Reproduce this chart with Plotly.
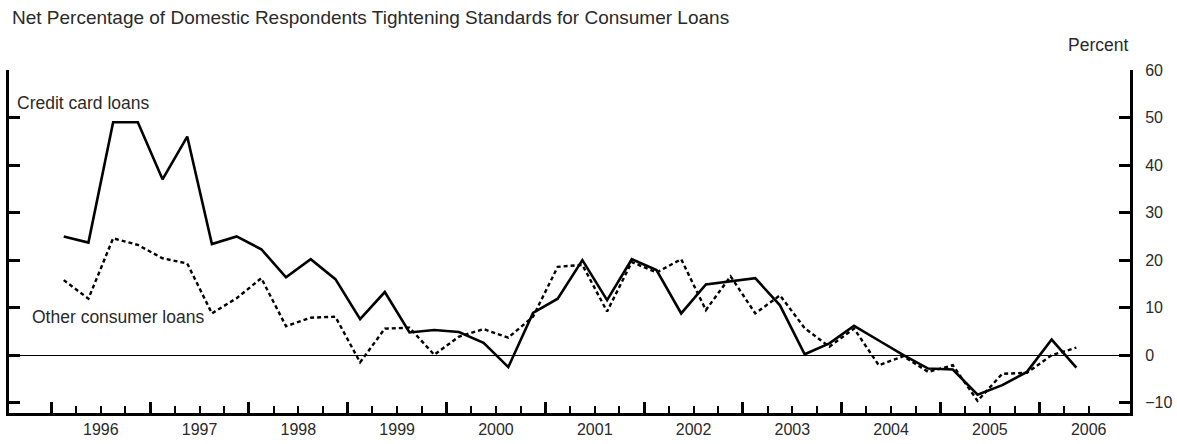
import plotly.graph_objects as go

# Quarterly survey periods: 1996 Q1 .. 2006 Q2
years = [y for y in range(1996, 2007) for _ in range(4)][:42]
quarters = [q for _ in range(1996, 2007) for q in range(4)][:42]

credit_card = [25, 23.7, 49, 49, 37, 46, 23.4, 25,
               22.3, 16.4, 20.2, 16.0, 7.6, 13.3, 4.8, 5.3,
               4.9, 2.6, -2.5, 8.9, 11.9, 20.0, 11.6, 20.2,
               17.9, 8.8, 14.9, 15.5, 16.2, 10.5, 0.2, 2.5,
               6.2, 3.1, 0.0, -2.8, -3.0, -8.3, -6.3, -3.5,
               3.3, -2.6]
other_consumer = [15.8, 11.9, 24.6, 23.2, 20.4, 19.3, 8.8, 12.0,
                  16.2, 6.1, 7.9, 8.1, -1.5, 5.6, 5.8, 0.1,
                  3.9, 5.5, 3.7, 8.1, 18.6, 19.0, 9.2, 19.6,
                  17.4, 20.2, 9.5, 16.6, 8.8, 12.6, 5.7, 1.8,
                  5.6, -2.1, -0.2, -3.5, -2.1, -9.6, -3.9, -3.7,
                  0.0, 1.6]

year_ticks = list(range(1996, 2007))
y_ticks = [-10, 0, 10, 20, 30, 40, 50, 60]

# x position of each survey: middle of its quarter
x = [y + 0.125 + 0.25 * q for y, q in zip(years, quarters)]

# quarter ticks (short) with year labels at mid-year; year starts as long ticks
q_ticks = [y + f for y in year_ticks for f in (0.25, 0.5, 0.75) if y + f <= 2006.5]
q_text = [str(int(v)) if abs(v - int(v) - 0.5) < 1e-9 else "" for v in q_ticks]

FONT = "Arial, 'Liberation Sans', sans-serif"
TXT = "#2a2a2a"

fig = go.Figure()
fig.add_trace(go.Scatter(x=x, y=credit_card, mode="lines", name="Credit card loans",
                         line=dict(color="black", width=2.6)))
fig.add_trace(go.Scatter(x=x, y=other_consumer, mode="lines", name="Other consumer loans",
                         line=dict(color="black", width=2.4, dash="4px,3px")))

yr = [-12.15, 60]
fig.update_layout(
    width=1177, height=444,
    margin=dict(l=9, r=47, t=70, b=31, autoexpand=False),
    paper_bgcolor="white", plot_bgcolor="white",
    showlegend=False,
    font=dict(family=FONT, color=TXT, size=16),
    xaxis=dict(range=[1995.571, 2006.918], showgrid=False, zeroline=False, automargin=False,
               showline=True, linecolor="black", linewidth=3,
               tickmode="array", tickvals=q_ticks, ticktext=q_text,
               ticks="inside", ticklen=7, tickwidth=2, tickcolor="black",
               ticklabelstandoff=0,
               tickfont=dict(size=16, color=TXT, family=FONT),
               minor=dict(tickmode="array", tickvals=year_ticks, ticks="inside",
                          ticklen=11, tickwidth=2.5, tickcolor="black")),
    yaxis=dict(range=yr, side="right", showgrid=False, automargin=False,
               zeroline=True, zerolinecolor="black", zerolinewidth=1.2,
               showline=True, linecolor="black", linewidth=3, mirror="ticks",
               tickmode="array", tickvals=y_ticks,
               ticks="inside", ticklen=11, tickwidth=2.5, tickcolor="black",
               ticklabelstandoff=9,
               tickfont=dict(size=16, color=TXT, family=FONT)),
    yaxis2=dict(range=yr, overlaying="y", side="right", showgrid=False, automargin=False,
                zeroline=False, showline=False, mirror="ticks",
                tickmode="array", tickvals=[60], showticklabels=False,
                ticks="inside", ticklen=22, tickwidth=2.5, tickcolor="black"),
)

fig.add_annotation(text="Net Percentage of Domestic Respondents Tightening Standards for Consumer Loans",
                   xref="paper", yref="paper", x=0.0009, y=1.1545, xanchor="left", yanchor="middle",
                   showarrow=False, font=dict(size=19.0, color=TXT, family=FONT))
fig.add_annotation(text="Percent", xref="paper", yref="paper", x=1.0, y=1.073,
                   xanchor="right", yanchor="middle", showarrow=False,
                   font=dict(size=17.5, color=TXT, family=FONT))
fig.add_annotation(text="Credit card loans", xref="paper", yref="paper", x=0.0054, y=0.904,
                   xanchor="left", yanchor="middle", showarrow=False,
                   font=dict(size=17.5, color=TXT, family=FONT))
fig.add_annotation(text="Other consumer loans", xref="paper", yref="paper", x=0.0187, y=0.280,
                   xanchor="left", yanchor="middle", showarrow=False,
                   font=dict(size=17.5, color=TXT, family=FONT))

fig.write_html("out.html", config={"displayModeBar": False},
               post_script="document.body.style.margin='0';document.body.style.padding='0';")
